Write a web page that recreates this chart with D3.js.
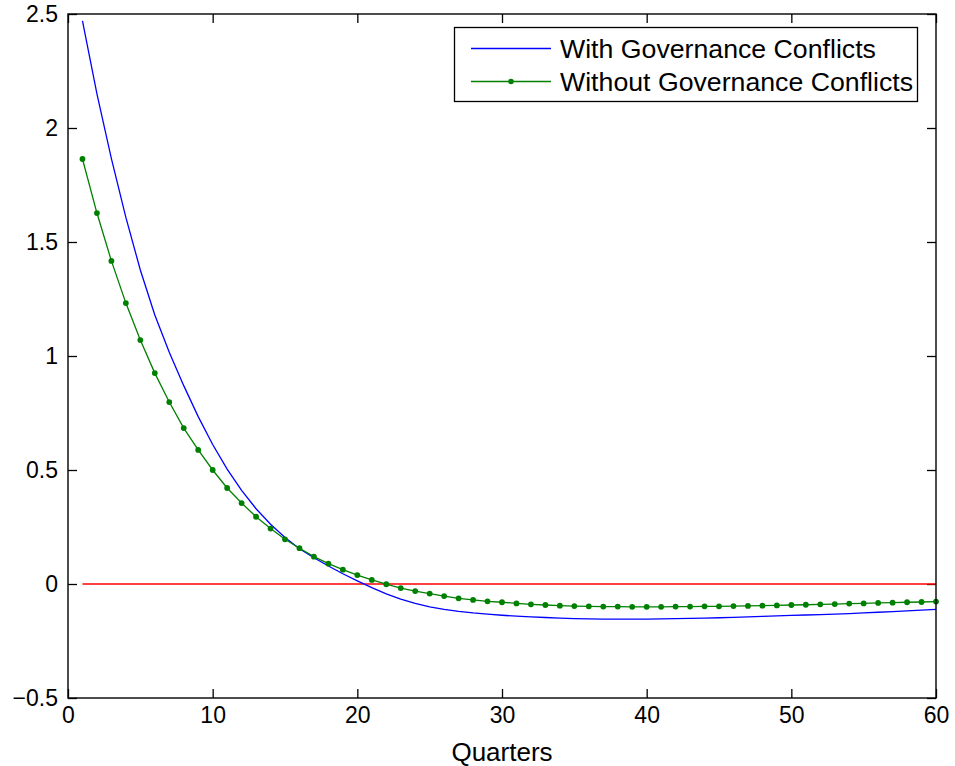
<!DOCTYPE html>
<html>
<head>
<meta charset="utf-8">
<script src="https://cdn.jsdelivr.net/npm/d3@7"></script>
<style>
  body { margin: 0; background: #fff; }
  svg { display: block; font-family: "Liberation Sans", Arial, Helvetica, sans-serif; }
</style>
</head>
<body>
<svg id="chart" width="955" height="766"></svg>
<script>
const quarters = [1,2,3,4,5,6,7,8,9,10,11,12,13,14,15,16,17,18,19,20,
  21,22,23,24,25,26,27,28,29,30,31,32,33,34,35,36,37,38,39,40,
  41,42,43,44,45,46,47,48,49,50,51,52,53,54,55,56,57,58,59,60];

const withConflicts = [2.470,2.150,1.866,1.608,1.377,1.180,1.016,0.870,0.734,0.612,
  0.504,0.411,0.330,0.262,0.204,0.155,0.115,0.079,0.045,0.014,
  -0.016,-0.043,-0.066,-0.085,-0.100,-0.111,-0.120,-0.127,-0.132,-0.137,
  -0.141,-0.144,-0.147,-0.150,-0.152,-0.153,-0.154,-0.154,-0.154,-0.154,
  -0.153,-0.152,-0.151,-0.150,-0.148,-0.146,-0.144,-0.142,-0.140,-0.138,
  -0.136,-0.134,-0.132,-0.130,-0.127,-0.124,-0.121,-0.118,-0.115,-0.111];

const withoutConflicts = [1.864,1.627,1.417,1.232,1.070,0.925,0.798,0.684,0.588,0.500,
  0.421,0.355,0.295,0.243,0.196,0.157,0.120,0.089,0.063,0.039,
  0.018,-0.001,-0.018,-0.031,-0.042,-0.053,-0.063,-0.070,-0.076,-0.080,
  -0.085,-0.089,-0.092,-0.095,-0.097,-0.098,-0.099,-0.099,-0.100,-0.100,
  -0.100,-0.099,-0.099,-0.098,-0.098,-0.097,-0.096,-0.095,-0.094,-0.092,
  -0.091,-0.089,-0.088,-0.086,-0.085,-0.083,-0.082,-0.080,-0.079,-0.077];

const zeroLineX = [1, 60];
const zeroLineY = [0, 0];

const xTicks = [0,10,20,30,40,50,60];
const yTicks = [-0.5,0,0.5,1,1.5,2,2.5];
const yTickLabels = ["\u22120.5","0","0.5","1","1.5","2","2.5"];
const seriesNames = ["With Governance Conflicts","Without Governance Conflicts"];
const xLabel = "Quarters";

const svg = d3.select("#chart");
const L = 68, R = 936, T = 14, B = 698;
const x = d3.scaleLinear().domain([0,60]).range([L,R]);
const y = d3.scaleLinear().domain([-0.5,2.5]).range([B,T]);

const tickLen = 9;
const fs = 23;

// axes
const gx = svg.append("g").attr("transform",`translate(0,${B})`)
  .call(d3.axisBottom(x).tickValues(xTicks).tickFormat(d3.format("d"))
    .tickSizeInner(-tickLen).tickSizeOuter(0).tickPadding(9));
const gy = svg.append("g").attr("transform",`translate(${L},0)`)
  .call(d3.axisLeft(y).tickValues(yTicks).tickFormat((d,i)=>yTickLabels[i])
    .tickSizeInner(-tickLen).tickSizeOuter(0).tickPadding(10));
const gt = svg.append("g").attr("transform",`translate(0,${T})`)
  .call(d3.axisTop(x).tickValues(xTicks).tickFormat("")
    .tickSizeInner(-tickLen).tickSizeOuter(0));
const gr = svg.append("g").attr("transform",`translate(${R},0)`)
  .call(d3.axisRight(y).tickValues(yTicks).tickFormat("")
    .tickSizeInner(-tickLen).tickSizeOuter(0));
[gx,gy,gt,gr].forEach(g=>{
  g.select(".domain").remove();
  g.selectAll(".tick line").attr("stroke","#000").attr("stroke-width",1.3);
  g.selectAll(".tick text").attr("font-size",fs).attr("fill","#000")
    .attr("font-family","'Liberation Sans', Arial, Helvetica, sans-serif");
});

// zero line
svg.append("path")
  .attr("d", d3.line()(zeroLineX.map((v,i)=>[x(v), y(zeroLineY[i])])))
  .attr("stroke","#ff0000").attr("stroke-width",1.4).attr("fill","none");

// blue line
const line = d3.line().x((d,i)=>x(quarters[i])).y(d=>y(d));
svg.append("path").datum(withConflicts).attr("d", line)
  .attr("stroke","#0000ff").attr("stroke-width",1.3).attr("fill","none");

// green line with markers
svg.append("path").datum(withoutConflicts).attr("d", line)
  .attr("stroke","#008000").attr("stroke-width",1.3).attr("fill","none");
svg.append("g").selectAll("circle").data(withoutConflicts).join("circle")
  .attr("cx",(d,i)=>x(quarters[i])).attr("cy",d=>y(d)).attr("r",2.9)
  .attr("fill","#008000");

// frame
svg.append("rect").attr("x",L).attr("y",T).attr("width",R-L).attr("height",B-T)
  .attr("fill","none").attr("stroke","#000").attr("stroke-width",1.4);

// x label
svg.append("text").attr("x",(L+R)/2).attr("y",761).attr("text-anchor","middle")
  .attr("font-size",26).attr("fill","#000").text(xLabel);

// legend
const lg = svg.append("g");
lg.append("rect").attr("x",454.5).attr("y",27.5).attr("width",463).attr("height",74)
  .attr("fill","#fff").attr("stroke","#000").attr("stroke-width",1.3);
const legColors = ["#0000ff","#008000"];
const legY = [48.5, 81.5];
seriesNames.forEach((name,i)=>{
  lg.append("line").attr("x1",471).attr("x2",551).attr("y1",legY[i]).attr("y2",legY[i])
    .attr("stroke",legColors[i]).attr("stroke-width",1.3);
  if (i===1) lg.append("circle").attr("cx",511).attr("cy",legY[i]).attr("r",2.8).attr("fill",legColors[i]);
  lg.append("text").attr("x",560).attr("y",legY[i]+9.5).attr("font-size",26.7)
    .attr("fill","#000").text(name);
});
</script>
</body>
</html>
